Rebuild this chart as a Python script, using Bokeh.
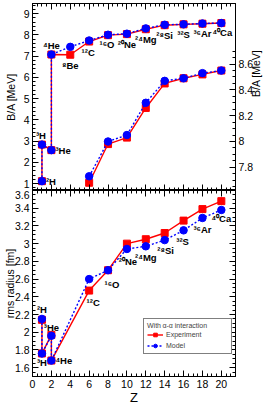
import math
import numpy as np
from bokeh.plotting import figure
from bokeh.layouts import column
from bokeh.models import (LinearAxis, Range1d, FixedTicker, SingleIntervalTicker,
                          Legend, LegendItem, CustomJSTickFormatter, ColumnDataSource)
from bokeh.core.properties import value
from bokeh.embed import file_html
from bokeh.resources import INLINE

# ---------------- data ----------------
ba_nuclei = ["2H", "3H", "3He", "4He", "8Be", "12C", "16O", "20Ne", "24Mg", "28Si", "32S", "36Ar", "40Ca"]
ba_Z = [1, 1, 2, 2, 4, 6, 8, 10, 12, 14, 16, 18, 20]
ba_exp = [1.11, 2.83, 2.57, 7.07, 7.06, 7.68, 7.98, 8.03, 8.26, 8.45, 8.49, 8.52, 8.55]
ba_model = [1.11, 2.83, 2.57, 7.07, 7.43, 7.73, 8.00, 8.05, 8.30, 8.47, 8.49, 8.53, 8.55]
zoom_first = 5  # nuclei from 12C on are repeated on the right (zoomed) axis

r_nuclei = ["2H", "3H", "3He", "4He", "12C", "16O", "20Ne", "24Mg", "28Si", "32S", "36Ar", "40Ca"]
r_Z = [1, 1, 2, 2, 6, 8, 10, 12, 14, 16, 18, 20]
r_exp = [2.14, 1.76, 1.97, 1.68, 2.47, 2.70, 3.00, 3.05, 3.12, 3.26, 3.39, 3.48]
r_model = [2.15, 1.76, 1.96, 1.68, 2.60, 2.70, 2.94, 2.97, 3.04, 3.15, 3.29, 3.38]

x_title = "Z"
ba_title = "B/A [MeV]"
r_title = "rms radius [fm]"
legend_title = "With\u2009α-α interaction"
legend_labels = ["Experiment", "Model"]

# ---------------- style ----------------
FONT = "Liberation Sans"
RED = "#ff0000"
BLUE = "#0000ff"
W = 271
SUP = str.maketrans("0123456789", "⁰¹²³⁴⁵⁶⁷⁸⁹")


def nucl(s):
    i = 0
    while s[i].isdigit():
        i += 1
    return s[:i].translate(SUP) + s[i:]


fmt = CustomJSTickFormatter(code="return String(parseFloat(tick.toFixed(3)))")
nofmt = CustomJSTickFormatter(code="return ''")


def style_axis(ax, labels=True):
    ax.major_tick_in = 6
    ax.major_tick_out = 0
    ax.minor_tick_in = 3
    ax.minor_tick_out = 0
    ax.axis_line_color = "black"
    ax.major_tick_line_color = "black"
    ax.minor_tick_line_color = "black"
    if labels:
        ax.major_label_text_font = FONT
        ax.major_label_text_font_size = "10.5px"
        ax.major_label_text_color = "black"
        ax.major_label_standoff = 3
        ax.formatter = fmt
    else:
        ax.formatter = nofmt
        ax.major_label_text_font_size = "1px"
        ax.major_label_standoff = 0


def set_title(ax, text, standoff):
    ax.axis_label = text
    ax.axis_label_text_font = FONT
    ax.axis_label_text_font_size = "10.5px"
    ax.axis_label_text_font_style = "normal"
    ax.axis_label_text_color = "black"
    ax.axis_label_standoff = standoff


def make_fig(height, y_range, border_bottom, border_top):
    p = figure(width=W, height=height, x_range=Range1d(0, 21.5), y_range=y_range,
               output_backend="svg", toolbar_location=None,
               min_border_left=31, min_border_right=36,
               min_border_top=border_top, min_border_bottom=border_bottom,
               background_fill_color="white", border_fill_color="white",
               outline_line_color="black", outline_line_width=1)
    p.grid.visible = False
    return p


def draw_pair(p, x, ye, ym, y_range_name="default"):
    le = p.line(x, ye, line_color=RED, line_width=1.4, y_range_name=y_range_name)
    se = p.scatter(x, ye, marker="square", size=7, fill_color=RED, line_color=RED,
                   y_range_name=y_range_name)
    lm = p.line(x, ym, line_color=BLUE, line_width=1.4, line_dash="2 2",
                y_range_name=y_range_name)
    sm = p.scatter(x, ym, marker="circle", size=7.5, fill_color=BLUE, line_color=BLUE,
                   y_range_name=y_range_name)
    return le, se, lm, sm


def nuclide_labels(p, xs, ys, names, aligns, dx, dy):
    src = ColumnDataSource(dict(x=xs, y=ys, t=[nucl(n) for n in names],
                                align=aligns, dx=dx, dy=dy))
    p.text(x="x", y="y", text="t", source=src, text_align="align",
           text_baseline="middle", x_offset="dx", y_offset="dy",
           text_font=value(FONT), text_font_style="bold", text_font_size="9.5px",
           text_color="black")


# ================= top panel: B/A =================
top = make_fig(190, Range1d(0.6706, 9.4706), border_bottom=0, border_top=3)
top.extra_y_ranges = {"zoom": Range1d(7.620, 9.0698)}

style_axis(top.xaxis[0], labels=False)
top.xaxis[0].ticker = SingleIntervalTicker(interval=2, num_minor_ticks=4)
style_axis(top.yaxis[0])
top.yaxis[0].ticker = SingleIntervalTicker(interval=1, num_minor_ticks=5)
set_title(top.yaxis[0], ba_title, 4)

ax_top = LinearAxis(ticker=SingleIntervalTicker(interval=2, num_minor_ticks=4))
style_axis(ax_top, labels=False)
top.add_layout(ax_top, "above")

ax_zoom = LinearAxis(y_range_name="zoom",
                     ticker=FixedTicker(ticks=[7.8, 8.0, 8.2, 8.4, 8.6],
                                        minor_ticks=[round(v, 2) for v in np.arange(7.65, 8.701, 0.05)]))
style_axis(ax_zoom)
set_title(ax_zoom, ba_title, 0)
try:
    ax_zoom.axis_label_orientation = math.pi / 2
except Exception:
    pass
top.add_layout(ax_zoom, "right")

draw_pair(top, ba_Z, ba_exp, ba_model)
draw_pair(top, ba_Z[zoom_first:], ba_exp[zoom_first:], ba_model[zoom_first:], y_range_name="zoom")

top_align = ["left", "center", "left", "center"] + ["center"] * 9
top_dx = [4, -1, 4, 0, 0, -1, -1, 0, 0, 0, 0, 0, 1]
top_dy = [0, -9, 0, -9, 11, 11, 9, 10, 10, 10, 10, 10, 9]
nuclide_labels(top, ba_Z, ba_exp, ba_nuclei, top_align, top_dx, top_dy)

# ================= bottom panel: rms radius =================
bot = make_fig(217, Range1d(1.5, 3.6), border_bottom=30, border_top=0)

bx = bot.xaxis[0]
style_axis(bx)
bx.ticker = SingleIntervalTicker(interval=2, num_minor_ticks=4)
set_title(bx, x_title, -1)
bx.axis_label_text_font_size = "13px"

style_axis(bot.yaxis[0])
bot.yaxis[0].ticker = SingleIntervalTicker(interval=0.2, num_minor_ticks=4)
set_title(bot.yaxis[0], r_title, -4)

ax_btop = LinearAxis(ticker=SingleIntervalTicker(interval=2, num_minor_ticks=4))
style_axis(ax_btop, labels=False)
bot.add_layout(ax_btop, "above")
ax_bright = LinearAxis(ticker=SingleIntervalTicker(interval=0.2, num_minor_ticks=4))
style_axis(ax_bright, labels=False)
bot.add_layout(ax_bright, "right")

le, se, lm, sm = draw_pair(bot, r_Z, r_exp, r_model)

bot_align = ["center", "center", "center", "left"] + ["center"] * 8
bot_dx = [0, 0, 0, 4, 4, 4, 1, 0, 1, -1, 0, 0]
bot_dy = [-9, 9, -8, 0, 23, 14, 13, 11, 10, 11, 12, 9]
nuclide_labels(bot, r_Z, r_model, r_nuclei, bot_align, bot_dx, bot_dy)

leg = Legend(items=[LegendItem(label=legend_labels[0], renderers=[le, se]),
                    LegendItem(label=legend_labels[1], renderers=[lm, sm])],
             location=(111, 22), title=legend_title,
             title_text_font=FONT, title_text_font_size="7px", title_text_font_style="normal",
             title_standoff=1,
             label_text_font=FONT, label_text_font_size="7px",
             glyph_width=16, glyph_height=9, label_height=9, label_width=62,
             label_standoff=3, padding=3, spacing=2, margin=0,
             border_line_color="black", border_line_width=1,
             background_fill_color="white", background_fill_alpha=1)
bot.add_layout(leg)

layout = column(top, bot, spacing=0)

open("out.html", "w").write(file_html(layout, INLINE))
